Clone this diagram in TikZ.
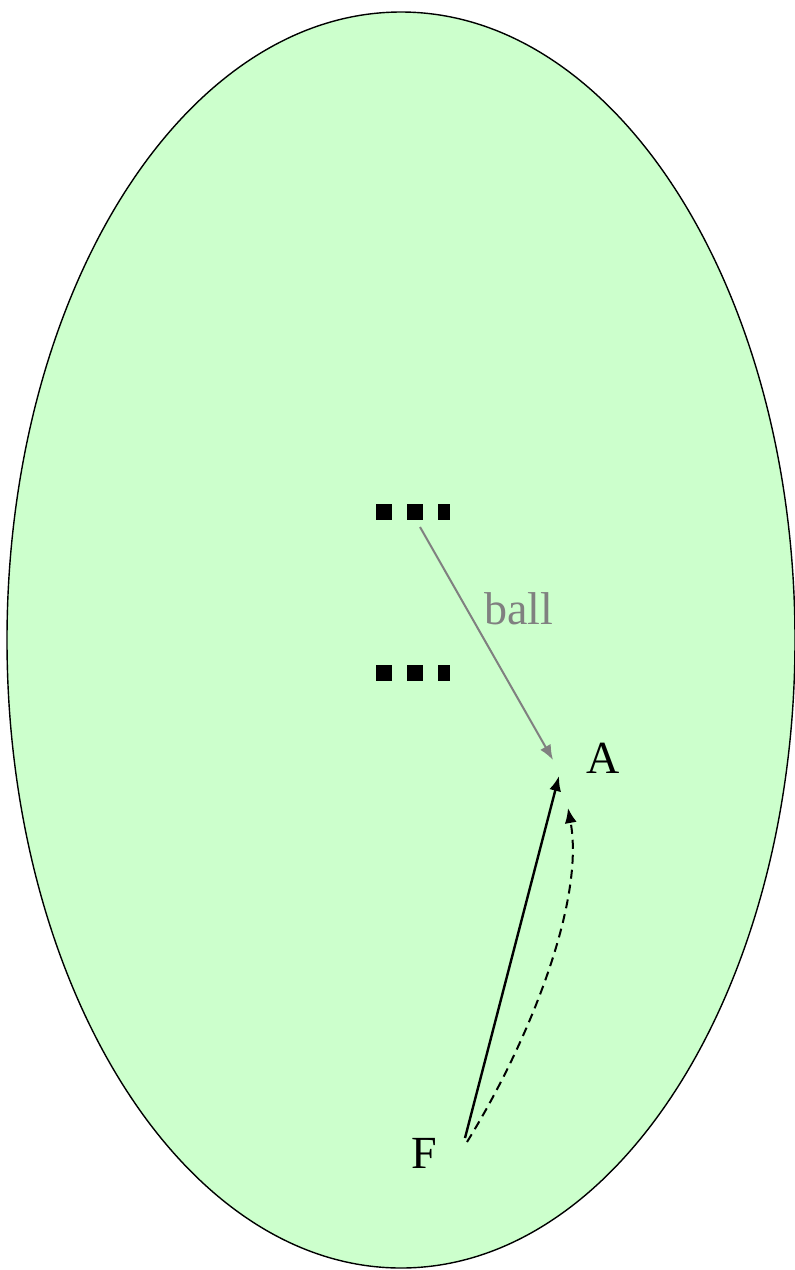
\documentclass[tikz,border=0pt]{standalone}
\usepackage{fontspec}
\setmainfont{Liberation Serif}
\usetikzlibrary{arrows.meta}
\definecolor{paleGreen}{HTML}{CCFFCC}
\newcommand{\sqdots}{\rule{16pt}{16pt}\hspace{15pt}\rule{16pt}{16pt}\hspace{15pt}\rule{12pt}{16pt}}
\begin{document}
\begin{tikzpicture}[x=1pt,y=-1pt,
  lbl/.style={font=\fontsize{46}{46}\selectfont,inner sep=0pt},
  ballArrow/.style={draw=gray,line width=2pt,-{Latex[length=15pt,width=12pt]}},
  blackArrow/.style={line width=2.4pt,-{Latex[length=15pt,width=12pt]}}]
\useasboundingbox (0,0) rectangle (795,1270);
\draw[fill=paleGreen,line width=1.4pt] (401,640) ellipse [x radius=394,y radius=628];

\node[inner sep=0pt] (dotsTop) at (413,512) {\sqdots};
\node[inner sep=0pt] (dotsMid) at (413,673) {\sqdots};
\node[lbl] (A) at (603,758) {A};
\node[lbl] (F) at (424,1153) {F};

\coordinate (ballStart) at (420,527);
\coordinate (ballEnd) at (553,760);
\coordinate (fSolid) at (465,1138);
\coordinate (fDash) at (467,1142);
\coordinate (aSolid) at (559,776);
\coordinate (aDash) at (568,808);

\draw[ballArrow] (ballStart) -- node[lbl,text=gray,right=17pt,pos=0.35] (ball) {ball} (ballEnd);
\draw[blackArrow] (fSolid) -- (aSolid);
\draw[blackArrow,line width=2pt,dash pattern=on 9pt off 6pt] (fDash) .. controls (530,1040) and (585,900) .. (aDash);
\end{tikzpicture}
\end{document}
